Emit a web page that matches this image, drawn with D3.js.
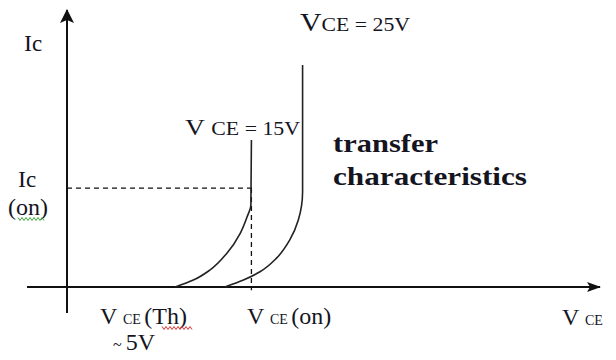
<!DOCTYPE html>
<html>
<head>
<meta charset="utf-8">
<script src="https://cdn.jsdelivr.net/npm/d3@7"></script>
<style>
  body { margin: 0; background: #fff; }
  svg { display: block; }
  text { font-family: "Liberation Serif", "Times New Roman", serif; fill: #15151f; }
</style>
</head>
<body>
<svg id="svg"></svg>
<script>
// arbitrary units: VCE along x, Ic along y
let vce15 = [20.3, 23.7, 26.8, 30.0, 32.5, 33.8, 34.5, 34.6];
let ic15  = [0, 2.5, 6.1, 12.2, 19.4, 25.4, 29.6, 53.1];

let vce25 = [29.6, 33.1, 36.2, 39.3, 41.8, 43.4, 44.2, 44.2];
let ic25  = [0, 2.5, 5.5, 10.4, 17.0, 24.2, 34.4, 80.1];

// the "on" operating point (dashed guide lines)
let icOn = 35.7;
let vceOn = 34.6;

let width = 616;
let height = 360;

let svg = d3.select("#svg")
  .attr("width", width)
  .attr("height", height);

let x = d3.scaleLinear().domain([0, 100]).range([67, 600]);
let y = d3.scaleLinear().domain([0, 100]).range([287, 10]);

//////////////////////////////////////////////////////////////////////////////
// arrow heads for the two axes
let defs = svg.append("defs");
defs.append("marker")
  .attr("id", "arrowUp")
  .attr("markerUnits", "userSpaceOnUse")
  .attr("viewBox", "0 0 14 14")
  .attr("refX", 7).attr("refY", 1)
  .attr("markerWidth", 14).attr("markerHeight", 14)
  .attr("orient", "0")
  .append("path")
  .attr("d", "M7,0 L14,14 L7,11 L0,14 Z")
  .attr("fill", "#111");

defs.append("marker")
  .attr("id", "arrowRight")
  .attr("markerUnits", "userSpaceOnUse")
  .attr("viewBox", "0 0 14 10")
  .attr("refX", 13).attr("refY", 5)
  .attr("markerWidth", 14).attr("markerHeight", 10)
  .attr("orient", "0")
  .append("path")
  .attr("d", "M0,0 L14,5 L0,10 L3,5 Z")
  .attr("fill", "#111");

// axes
svg.append("line")
  .attr("x1", x(0)).attr("x2", x(0))
  .attr("y1", y(-9.4)).attr("y2", y(100))
  .attr("stroke", "#111").attr("stroke-width", 2)
  .attr("marker-end", "url(#arrowUp)");

svg.append("line")
  .attr("x1", x(-7.5)).attr("x2", x(100))
  .attr("y1", y(0)).attr("y2", y(0))
  .attr("stroke", "#111").attr("stroke-width", 2)
  .attr("marker-end", "url(#arrowRight)");

// dashed guides to the on point
svg.append("line")
  .attr("x1", x(0)).attr("x2", x(vceOn) + 2)
  .attr("y1", y(icOn)).attr("y2", y(icOn))
  .attr("stroke", "#111").attr("stroke-width", 1.3)
  .attr("stroke-dasharray", "5,4");

svg.append("line")
  .attr("x1", x(vceOn)).attr("x2", x(vceOn))
  .attr("y1", y(icOn)).attr("y2", y(-1.2))
  .attr("stroke", "#111").attr("stroke-width", 1.3)
  .attr("stroke-dasharray", "5,4");

// transfer curves
let line = d3.line()
  .x(function(d) { return x(d[0]); })
  .y(function(d) { return y(d[1]); })
  .curve(d3.curveMonotoneY);

svg.append("path")
  .datum(d3.zip(vce15, ic15))
  .attr("d", line)
  .attr("fill", "none").attr("stroke", "#222").attr("stroke-width", 1.6);

svg.append("path")
  .datum(d3.zip(vce25, ic25))
  .attr("d", line)
  .attr("fill", "none").attr("stroke", "#222").attr("stroke-width", 1.6);

//////////////////////////////////////////////////////////////////////////////
// labels: each piece is [text, font size]
function label(px, py, parts, bold) {
  let t = svg.append("text").attr("x", px).attr("y", py);
  if (bold) t.attr("font-weight", "bold");
  for (let i = 0; i < parts.length; ++i) {
    t.append("tspan").attr("font-size", parts[i][1]).text(parts[i][0]);
  }
  return t;
}

label(24, 51, [["I", 24], ["c", 23]]);
label(300, 31, [["V", 26], ["CE = 25V", 19]]).attr("textLength", 110).attr("lengthAdjust", "spacingAndGlyphs");
label(185, 135, [["V ", 24], ["CE = 15V", 19]]).attr("textLength", 115).attr("lengthAdjust", "spacingAndGlyphs");

label(333, 152, [["transfer", 26]], true).attr("textLength", 105).attr("lengthAdjust", "spacingAndGlyphs");
label(333, 185, [["characteristics", 26]], true).attr("textLength", 194).attr("lengthAdjust", "spacingAndGlyphs");

label(18, 187, [["I", 24], ["c", 23]]);
label(8, 215, [["(on)", 24]]);

label(100, 324, [["V ", 24], ["CE ", 14], ["(Th)", 24]]);
label(113, 350, [["~ ", 16], ["5V", 24]]);
label(247, 324, [["V ", 24], ["CE ", 14], ["(on)", 24]]);
label(562, 325, [["V ", 24], ["CE", 14]]);

// spell-check squiggles from the original document
function squiggle(x0, x1, yy, colour) {
  let pts = [];
  for (let px = x0, k = 0; px <= x1; px += 2, ++k) pts.push([px, yy + (k % 2 ? 1.5 : -1.5)]);
  svg.append("path")
    .attr("d", d3.line()(pts))
    .attr("fill", "none").attr("stroke", colour).attr("stroke-width", 0.9);
}
squiggle(18, 44, 219, "#2a9a2a");
squiggle(162, 192, 328, "#e02020");
</script>
</body>
</html>
